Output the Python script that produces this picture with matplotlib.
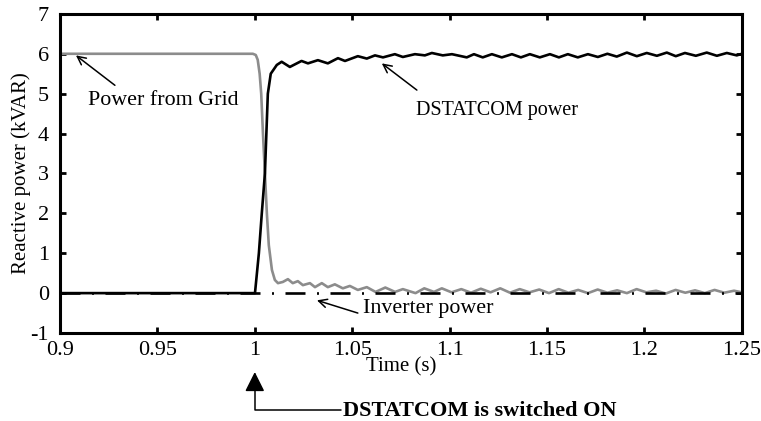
import matplotlib
matplotlib.use("Agg")
import matplotlib.pyplot as plt
from matplotlib.transforms import blended_transform_factory

# DSTATCOM reactive power (kVAR) vs time (s)
t_dstatcom = [0.9, 1.0001, 1.0021, 1.0036, 1.0052, 1.0067, 1.0082, 1.0113,
              1.0138, 1.0180, 1.0240, 1.0273, 1.0324, 1.0375, 1.0427, 1.0463,
              1.0529, 1.0575, 1.0617, 1.0658, 1.0719, 1.0760, 1.0822, 1.0873,
              1.0909, 1.0965, 1.1012, 1.1088, 1.1125, 1.1170, 1.1217, 1.1268,
              1.1320, 1.1366, 1.1412, 1.1463, 1.1515, 1.1561, 1.1607, 1.1658,
              1.1710, 1.1761, 1.1810, 1.1858, 1.1910, 1.1961, 1.2012, 1.2064,
              1.2115, 1.2161, 1.2208, 1.2264, 1.2320, 1.2372, 1.2423, 1.2474,
              1.25]
q_dstatcom = [0.0, 0.0, 1.0, 2.0, 3.0, 5.0, 5.5, 5.72,
              5.80, 5.67, 5.82, 5.76, 5.84, 5.76, 5.89, 5.82,
              5.94, 5.88, 5.96, 5.91, 5.99, 5.92, 5.99, 5.96,
              6.02, 5.96, 5.99, 5.91, 5.99, 5.91, 5.99, 5.91,
              5.99, 5.91, 5.99, 5.91, 5.99, 5.91, 5.99, 5.91,
              5.99, 5.92, 6.00, 5.93, 6.03, 5.94, 6.02, 5.95,
              6.03, 5.94, 6.02, 5.95, 6.03, 5.95, 6.02, 5.96,
              6.0]

# Power from grid
t_grid = [0.9, 0.999, 1.0005, 1.0015, 1.0025, 1.0033, 1.0042, 1.0052, 1.0062,
          1.0072, 1.0088, 1.0103, 1.0119, 1.0144, 1.0170, 1.0195, 1.0221,
          1.0247, 1.0283, 1.0309, 1.0344, 1.0375, 1.0411, 1.0452, 1.0488,
          1.0529, 1.0575, 1.0620, 1.0670, 1.0720, 1.0760, 1.0825, 1.0870,
          1.0920, 1.0960, 1.1010, 1.1060, 1.1110, 1.1160, 1.1210, 1.1260,
          1.1310, 1.1360, 1.1410, 1.1460, 1.1510, 1.1560, 1.1610, 1.1660,
          1.1710, 1.1760, 1.1810, 1.1860, 1.1910, 1.1960, 1.2010, 1.2060,
          1.2110, 1.2160, 1.2210, 1.2260, 1.2310, 1.2360, 1.2410, 1.2460,
          1.25]
q_grid = [6.0, 6.0, 5.97, 5.85, 5.5, 5.0, 4.0, 3.0, 2.0,
          1.2, 0.58, 0.33, 0.25, 0.28, 0.35, 0.25, 0.30,
          0.20, 0.25, 0.15, 0.25, 0.15, 0.22, 0.12, 0.18,
          0.08, 0.15, 0.03, 0.14, 0.03, 0.10, 0.00, 0.12,
          0.03, 0.12, 0.02, 0.10, 0.01, 0.11, 0.02, 0.12,
          0.01, 0.10, 0.02, 0.09, 0.00, 0.10, 0.01, 0.08,
          0.00, 0.09, 0.01, 0.07, 0.00, 0.10, 0.02, 0.06,
          -0.01, 0.08, 0.01, 0.07, 0.00, 0.08, 0.01, 0.06,
          0.02]

# Inverter power
t_inverter = [0.9, 1.25]
q_inverter = [0.0, 0.0]

x_ticks = [0.9, 0.95, 1.0, 1.05, 1.1, 1.15, 1.2, 1.25]
x_tick_labels = ["0.9", "0.95", "1", "1.05", "1.1", "1.15", "1.2", "1.25"]
y_ticks = [-1, 0, 1, 2, 3, 4, 5, 6, 7]

plt.rcParams["font.family"] = ["Liberation Serif", "DejaVu Serif"]
plt.rcParams["lines.scale_dashes"] = False
plt.rcParams["axes.unicode_minus"] = False

fig = plt.figure(figsize=(7.61, 4.21), dpi=100)
ax = fig.add_axes([0.0788, 0.209, 0.896, 0.758])

inv, = ax.plot(t_inverter, q_inverter, color="black", lw=1.9, zorder=3)
inv.set_dashes([14.4, 8.3, 1.4, 8.3])
inv.set_dash_capstyle("butt")
ax.plot(t_grid, q_grid, color="#8c8c8c", lw=1.9, zorder=2)
ax.plot(t_dstatcom, q_dstatcom, color="black", lw=1.9, zorder=4)

ax.set_xlim(0.9, 1.25)
ax.set_ylim(-1, 7)
ax.set_xticks(x_ticks)
ax.set_xticklabels(x_tick_labels)
ax.set_yticks(y_ticks)
ax.tick_params(direction="in", length=4.5, width=2, top=True, right=True,
               labelsize=16)
ax.tick_params(axis="x", pad=5.5)
ax.tick_params(axis="y", pad=8)
for s in ax.spines.values():
    s.set_linewidth(2.2)

ax.set_xlabel("Time (s)", fontsize=15)
ax.xaxis.set_label_coords(0.5, -0.107)
ax.xaxis.label.set_va("center")
ax.set_ylabel("Reactive power (kVAR)", fontsize=15)
ax.yaxis.set_label_coords(-0.042, 0.5)

arrow = dict(arrowstyle="->,head_length=0.6,head_width=0.3", color="black",
             lw=1.1, shrinkA=0, shrinkB=0)
ax.annotate("", xy=(0.9082, 5.96), xytext=(0.9282, 5.21), arrowprops=arrow)
ax.text(0.9144, 4.84, "Power from Grid", fontsize=15.8, va="center", ha="left")
ax.annotate("", xy=(1.0652, 5.76), xytext=(1.0832, 5.09), arrowprops=arrow)
ax.text(1.0825, 4.59, "DSTATCOM power", fontsize=14.5, va="center", ha="left")
ax.annotate("", xy=(1.0319, -0.18), xytext=(1.0529, -0.5), arrowprops=arrow)
ax.text(1.0555, -0.38, "Inverter power", fontsize=15.8, va="center", ha="left")

# switch-on marker below the axis
mixed = blended_transform_factory(ax.transData, fig.transFigure)
ax.annotate("", xy=(1.0, 1 - 372 / 421), xycoords=mixed,
            xytext=(1.0445, 1 - 410 / 421), textcoords=mixed,
            arrowprops=dict(arrowstyle="-|>,head_length=1.2,head_width=0.6",
                            connectionstyle="angle,angleA=0,angleB=90,rad=0",
                            color="black", lw=1.1, shrinkA=0, shrinkB=0),
            annotation_clip=False)
ax.text(1.0452, 1 - 411 / 421, "DSTATCOM is switched ON", fontsize=16,
        fontweight="bold", va="center", ha="left", transform=mixed)

fig.savefig("out.png", dpi=100)
